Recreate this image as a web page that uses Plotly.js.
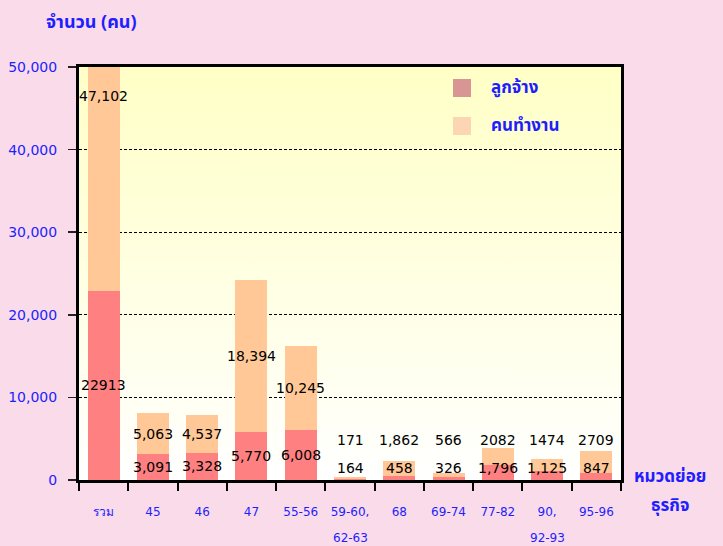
<!DOCTYPE html>
<html>
<head>
<meta charset="utf-8">
<script src="https://cdn.plot.ly/plotly-3.0.1.min.js"></script>
<style>
html,body{margin:0;padding:0;background:#f9dbea;}
#chart{width:723px;height:546px;}
</style>
</head>
<body>
<div id="chart"></div>
<script>
// ---- data ----
const categories = ['รวม','45','46','47','55-56','59-60, 62-63','68','69-74','77-82','90, 92-93','95-96'];
const tickLine1 = ['รวม','45','46','47','55-56','59-60,','68','69-74','77-82','90,','95-96'];
const tickLine2 = ['','','','','','62-63','','','','92-93',''];
const employees = [22913, 3091, 3328, 5770, 6008, 164, 458, 326, 1796, 1125, 847];
const workers   = [47102, 5063, 4537, 18394, 10245, 171, 1862, 566, 2082, 1474, 2709];
const employeeLabels = ['22913','3,091','3,328','5,770','6,008','164','458','326','1,796','1,125','847'];
const workerLabels   = ['47,102','5,063','4,537','18,394','10,245','171','1,862','566','2082','1474','2709'];
const seriesNames = ['ลูกจ้าง','คนทำงาน'];

const BLUE = '#1e1eff';
const THAI = 'Tahoma, "Noto Sans Thai", "Noto Sans", "DejaVu Sans", sans-serif';
const NUMF = '"DejaVu Sans", Tahoma, sans-serif';

const traces = [
  {type:'bar', x:categories, y:employees, name:seriesNames[0], marker:{color:'#ff8080', line:{width:0}}, width:0.65, showlegend:false, hoverinfo:'skip'},
  {type:'bar', x:categories, y:workers, name:seriesNames[1], marker:{color:'#ffc896', line:{width:0}}, width:0.65, showlegend:false, hoverinfo:'skip'}
];

const annotations = [];
categories.forEach((c,i)=>{
  annotations.push({x:i, y:Math.max(employees[i]/2, 1500), xref:'x', yref:'y', text:employeeLabels[i], showarrow:false,
    font:{family:NUMF, size:14, color:'#000'}});
  annotations.push({x:i, y:Math.max(employees[i] + workers[i]/2, 4800), xref:'x', yref:'y', text:workerLabels[i], showarrow:false,
    font:{family:NUMF, size:14, color:'#000'}});
  if (tickLine2[i]) {
    annotations.push({x:i, xref:'x', yref:'paper', y:-0.14, yanchor:'middle', text:tickLine2[i], showarrow:false,
      font:{family:NUMF, size:12, color:BLUE}});
  }
});
// y axis title
annotations.push({xref:'paper', yref:'paper', x:-0.064, y:1.108, xanchor:'left', yanchor:'middle', text:'<b>จำนวน (คน)</b>', showarrow:false,
  font:{family:THAI, size:18, color:BLUE}});
// x axis title (two lines)
annotations.push({xref:'paper', yref:'paper', x:1.09, y:0.008, xanchor:'center', yanchor:'middle', text:'<b>หมวดย่อย</b>', showarrow:false,
  font:{family:THAI, size:17, color:BLUE}});
annotations.push({xref:'paper', yref:'paper', x:1.09, y:-0.062, xanchor:'center', yanchor:'middle', text:'<b>ธุรกิจ</b>', showarrow:false,
  font:{family:THAI, size:17, color:BLUE}});
// legend
const legendColors = ['#d99594','#fcd5b5'];
const shapes = [];
seriesNames.forEach((n,k)=>{
  const yc = 1 - (21 + k*38)/413;
  shapes.push({type:'rect', xref:'paper', yref:'paper', x0:(453-79)/542, x1:(471-79)/542, y0:yc-9/413, y1:yc+9/413,
    fillcolor:legendColors[k], line:{width:0}});
  annotations.push({xref:'paper', yref:'paper', x:(489-79)/542, y:yc, xanchor:'left', yanchor:'middle', text:'<b>'+n+'</b>', showarrow:false,
    font:{family:THAI, size:17, color:BLUE}});
});

const svg = "<svg xmlns='http://www.w3.org/2000/svg' width='10' height='10' viewBox='0 0 10 10' preserveAspectRatio='none'><defs><linearGradient id='g' x1='0' y1='0' x2='0' y2='1'><stop offset='0' stop-color='#ffffc6'/><stop offset='0.75' stop-color='#fffff0'/><stop offset='1' stop-color='#ffffff'/></linearGradient></defs><rect width='10' height='10' fill='url(#g)'/></svg>";

const layout = {
  width:723, height:546,
  margin:{l:79, r:102, t:67, b:66, pad:0},
  paper_bgcolor:'#f9dbea',
  plot_bgcolor:'rgba(0,0,0,0)',
  barmode:'stack',
  showlegend:false,
  images:[{source:'data:image/svg+xml;charset=utf-8,'+encodeURIComponent(svg), xref:'paper', yref:'paper', x:0, y:1, sizex:1, sizey:1,
    sizing:'stretch', xanchor:'left', yanchor:'top', layer:'below'}],
  xaxis:{type:'category', tickvals:categories, ticktext:tickLine1, tickson:'boundaries',
    ticks:'outside', ticklen:8, tickwidth:2, tickcolor:'#000',
    showline:true, linewidth:3, linecolor:'#000', mirror:true, showgrid:false,
    tickfont:{family:NUMF, size:12, color:BLUE}, ticklabelstandoff:19, range:[-0.5,10.5]},
  yaxis:{range:[0,50000], tickvals:[0,10000,20000,30000,40000,50000], ticktext:['0','10,000','20,000','30,000','40,000','50,000'],
    ticks:'outside', ticklen:8, tickwidth:1.5, tickcolor:'#222',
    showline:true, linewidth:3, linecolor:'#000', mirror:true,
    showgrid:true, gridcolor:'#000', gridwidth:1, griddash:'3px,2px', zeroline:false,
    tickfont:{family:NUMF, size:14, color:BLUE}, ticklabelstandoff:8},
  annotations:annotations,
  shapes:shapes
};
Plotly.newPlot('chart', traces, layout, {staticPlot:true, displayModeBar:false});
</script>
</body>
</html>
